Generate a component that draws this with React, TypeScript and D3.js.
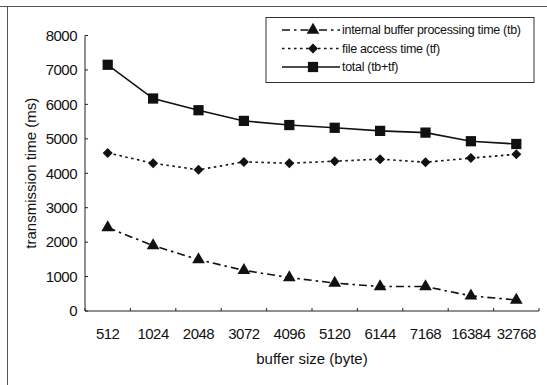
import React from "react";
import * as d3 from "d3";

const categories = ["512", "1024", "2048", "3072", "4096", "5120", "6144", "7168", "16384", "32768"];
const bufferTime = [2420, 1900, 1490, 1180, 970, 810, 710, 710, 440, 320];
const fileTime = [4590, 4290, 4100, 4330, 4290, 4350, 4410, 4320, 4440, 4550];
const totalTime = [7150, 6170, 5830, 5520, 5400, 5320, 5230, 5180, 4930, 4850];
const yTicks = [0, 1000, 2000, 3000, 4000, 5000, 6000, 7000, 8000];
const seriesNames = ["internal buffer processing time (tb)", "file access time (tf)", "total (tb+tf)"];

const W = 547, H = 385;
const left = 85, right = 539, top = 35.5, bottom = 311;
const font = "'Liberation Sans', Arial, sans-serif";

export default function App() {
  const x = d3.scaleBand<string>().domain(categories).range([left, right]);
  const y = d3.scaleLinear().domain([0, 8000]).range([bottom, top]);
  const cx = (c: string) => (x(c) as number) + x.bandwidth() / 2;
  const line = d3.line<[string, number]>().x((d) => cx(d[0])).y((d) => y(d[1]));
  const zip = (vals: number[]) => categories.map((c, i) => [c, vals[i]] as [string, number]);

  const tri = d3.symbol().type(d3.symbolTriangle).size(70)();
  const dia = "M0,-5L5,0L0,5L-5,0Z";
  const sq = d3.symbol().type(d3.symbolSquare).size(105)();

  const series = [
    { vals: bufferTime, dash: "8,4,2.5,4", path: tri, name: seriesNames[0] },
    { vals: fileTime, dash: "2.5,3.5", path: dia, name: seriesNames[1] },
    { vals: totalTime, dash: "none", path: sq, name: seriesNames[2] },
  ];

  const boundaries = categories.map((c) => x(c) as number).concat([right]);

  return (
    <svg width={W} height={H} style={{ position: "absolute", left: 0, top: 0, background: "#fff" }} fontFamily={font}>
      {/* outer frame remnants */}
      <line x1={0} x2={W} y1={6.5} y2={6.5} stroke="#555" strokeWidth={1} />
      <line x1={7.5} x2={7.5} y1={6.5} y2={H} stroke="#555" strokeWidth={1} />

      {/* axes */}
      <line x1={left} x2={left} y1={top} y2={bottom} stroke="#222" strokeWidth={1} />
      <line x1={left} x2={right} y1={bottom} y2={bottom} stroke="#222" strokeWidth={1} />
      {yTicks.map((t) => (
        <g key={t}>
          <line x1={left} x2={left + 3} y1={y(t)} y2={y(t)} stroke="#222" />
          <text x={77} y={y(t)} dy="0.35em" textAnchor="end" fontSize={15} letterSpacing={-0.5} fill="#111">
            {t}
          </text>
        </g>
      ))}
      {boundaries.map((b, i) => (
        <line key={i} x1={b} x2={b} y1={bottom} y2={bottom - 3} stroke="#222" />
      ))}
      {categories.map((c) => (
        <text key={c} x={cx(c)} y={334} dy="0.35em" textAnchor="middle" fontSize={15} letterSpacing={-0.5} fill="#111">
          {c}
        </text>
      ))}
      <text x={(left + right) / 2} y={359} dy="0.35em" textAnchor="middle" fontSize={15} fill="#111">
        buffer size (byte)
      </text>
      <text transform={`translate(31,${(top + bottom) / 2}) rotate(-90)`} dy="0.35em" textAnchor="middle" fontSize={15} fill="#111">
        transmission time (ms)
      </text>

      {/* series */}
      {series.map((s, si) => (
        <g key={si}>
          <path d={line(zip(s.vals)) as string} fill="none" stroke="#111" strokeWidth={1.6} strokeDasharray={s.dash} />
          {zip(s.vals).map((d, i) => (
            <path key={i} d={s.path as string} transform={`translate(${cx(d[0])},${y(d[1])})`} fill="#111" />
          ))}
        </g>
      ))}

      {/* legend */}
      <rect x={266} y={17.5} width={268} height={65} fill="#fff" stroke="#333" strokeWidth={1} />
      {series.map((s, i) => {
        const ly = 30 + i * 18.5;
        return (
          <g key={i}>
            <line x1={282} x2={340} y1={ly} y2={ly} stroke="#111" strokeWidth={1.6} strokeDasharray={s.dash} />
            <path d={s.path as string} transform={`translate(313,${ly})`} fill="#111" />
            <text x={342} y={ly} dy="0.35em" fontSize={12.5} letterSpacing={-0.3} fill="#111">
              {s.name}
            </text>
          </g>
        );
      })}
    </svg>
  );
}
